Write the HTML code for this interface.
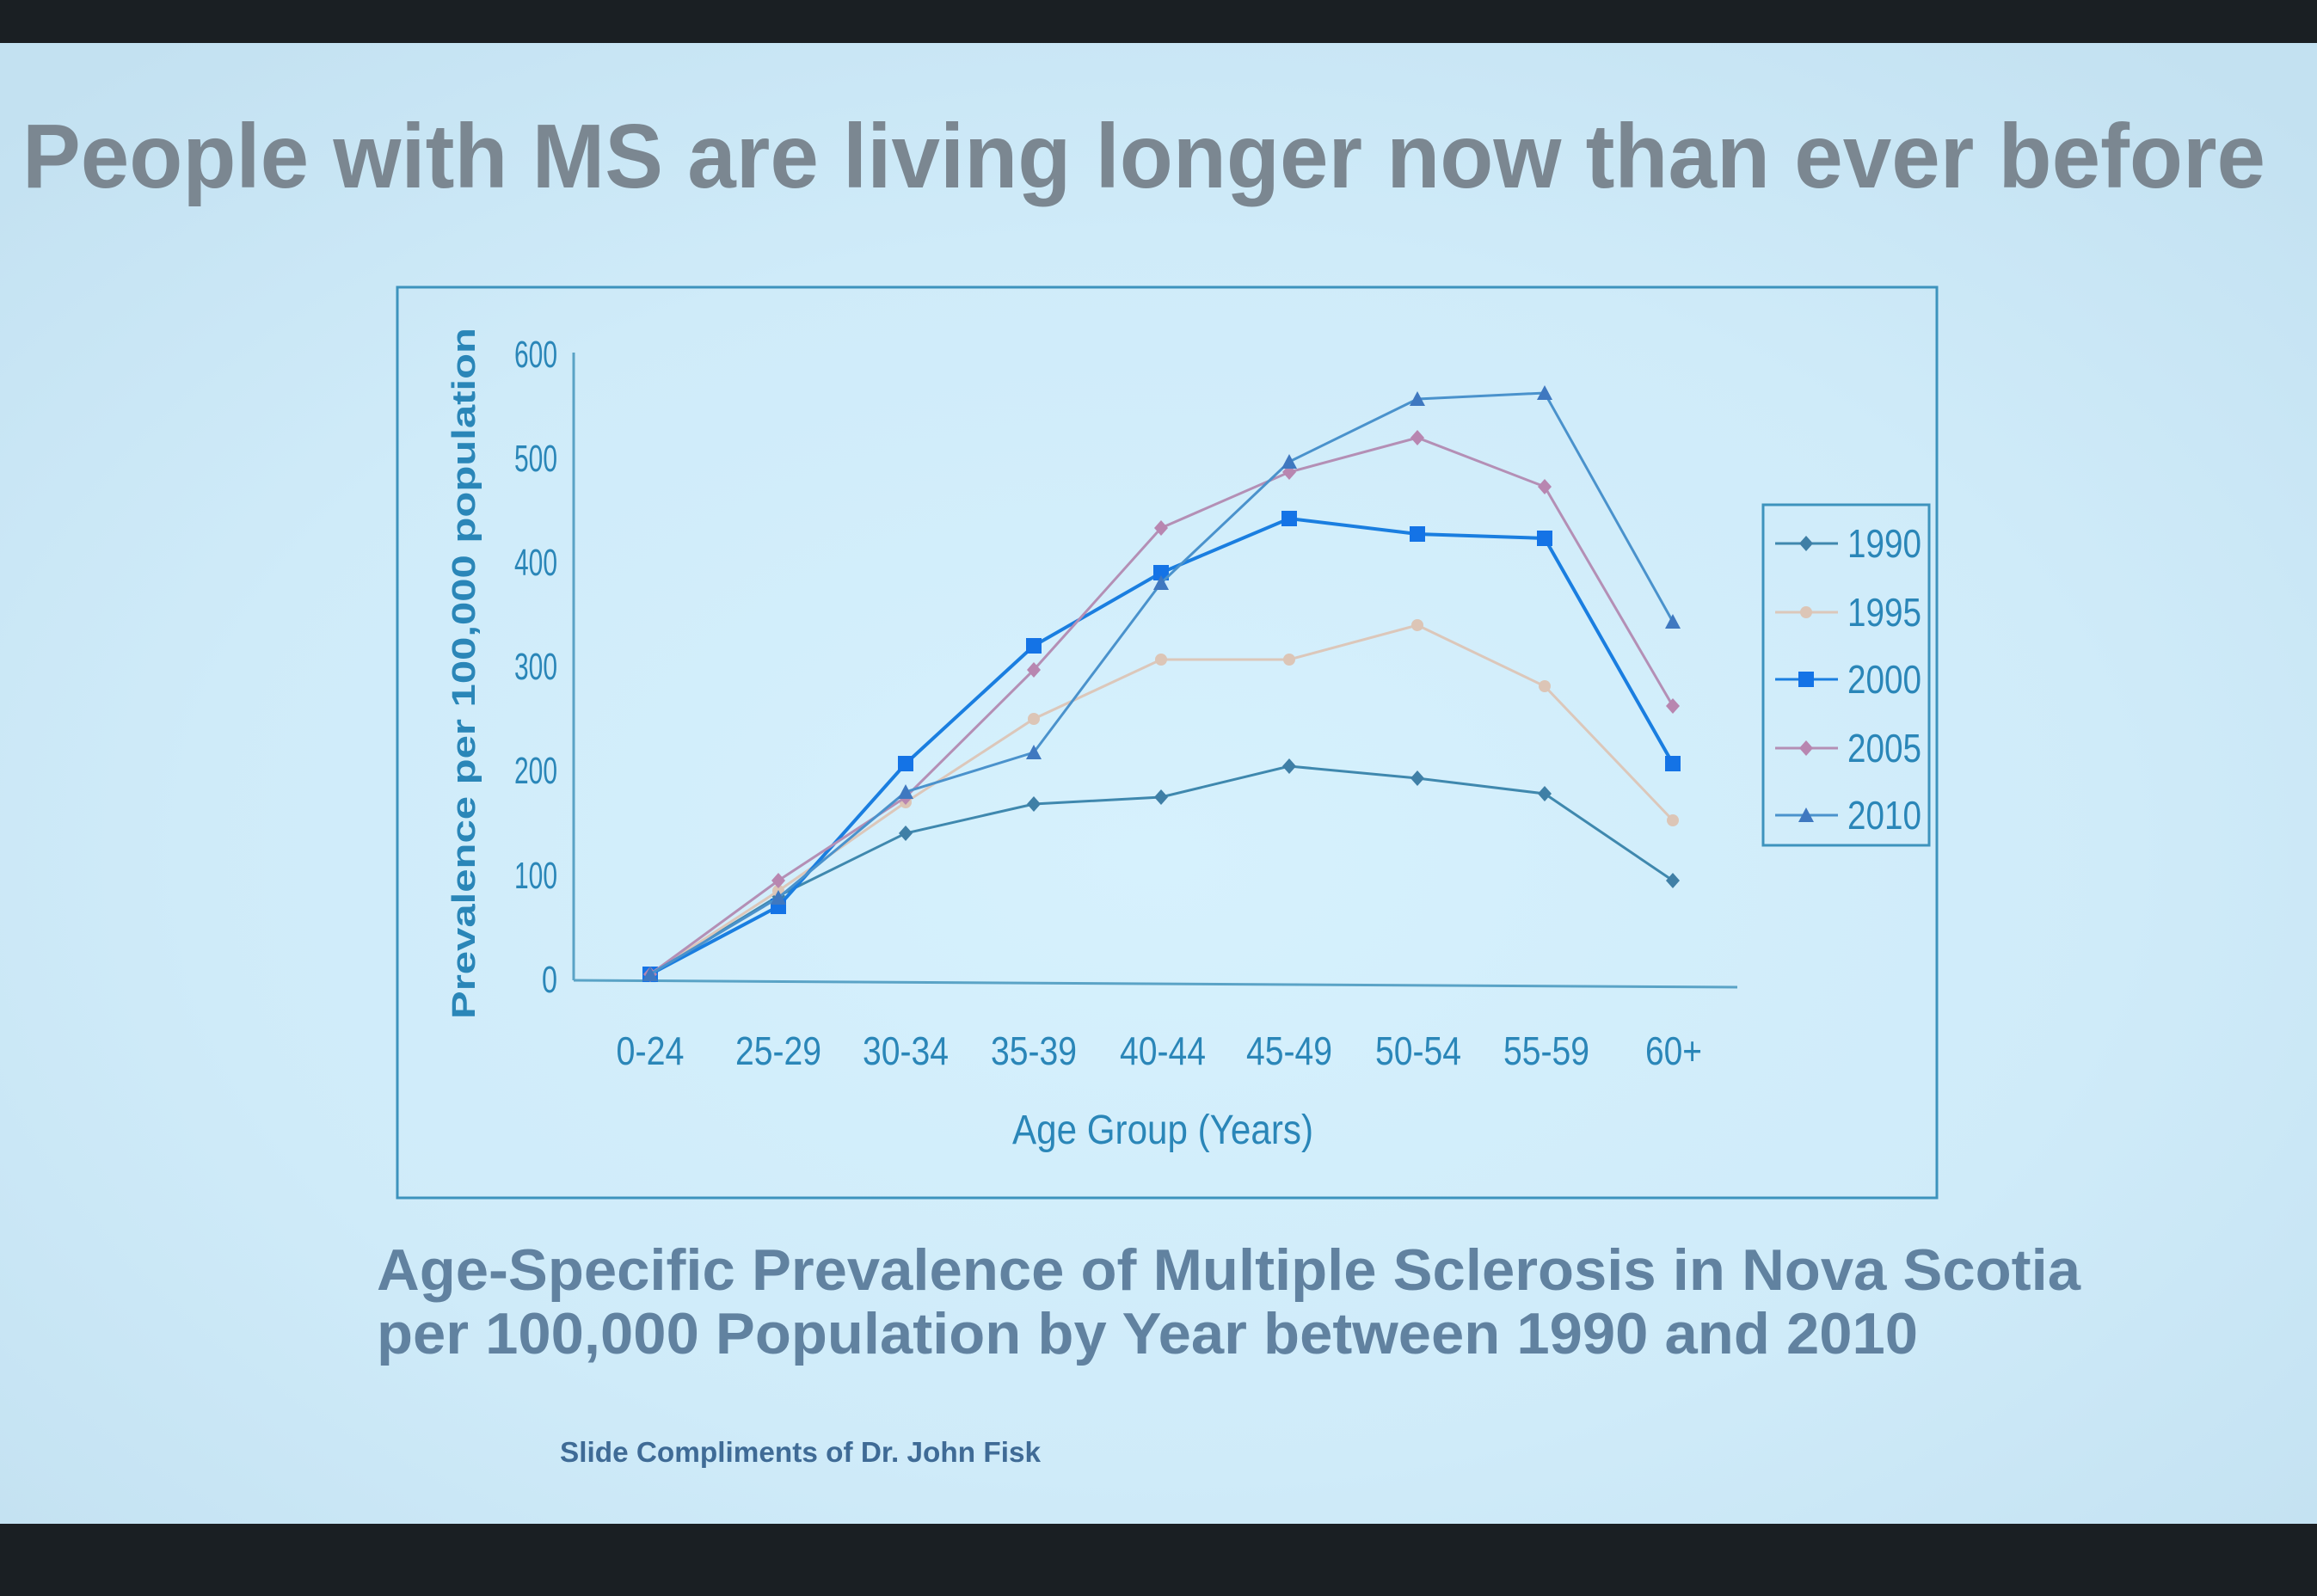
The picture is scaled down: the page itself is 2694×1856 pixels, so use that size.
<!DOCTYPE html>
<html><head><meta charset="utf-8"><style>
html,body{margin:0;padding:0;}
body{width:2694px;height:1856px;overflow:hidden;background:#1a1f23;position:relative;}
</style></head><body>
<svg width="2694" height="1856" viewBox="0 0 2694 1856" xmlns="http://www.w3.org/2000/svg" style="position:absolute;left:0;top:0">
<defs>
<radialGradient id="bg" cx="0.5" cy="0.55" r="0.7">
<stop offset="0" stop-color="#d6f1fd"/>
<stop offset="0.6" stop-color="#cfebf9"/>
<stop offset="1" stop-color="#c3e1f1"/>
</radialGradient>
<marker id="m90" viewBox="-10 -10 20 20" markerWidth="20" markerHeight="20" markerUnits="userSpaceOnUse"><path d="M0,-9 L8,0 L0,9 L-8,0Z" fill="#3f7fa6"/></marker>
<marker id="m95" viewBox="-10 -10 20 20" markerWidth="20" markerHeight="20" markerUnits="userSpaceOnUse"><circle r="7" fill="#dcc5b6"/></marker>
<marker id="m00" viewBox="-10 -10 20 20" markerWidth="20" markerHeight="20" markerUnits="userSpaceOnUse"><rect x="-9" y="-9" width="18" height="18" fill="#1473e6"/></marker>
<marker id="m05" viewBox="-10 -10 20 20" markerWidth="20" markerHeight="20" markerUnits="userSpaceOnUse"><path d="M0,-9 L8,0 L0,9 L-8,0Z" fill="#b886b0"/></marker>
<marker id="m10" viewBox="-10 -10 20 20" markerWidth="20" markerHeight="20" markerUnits="userSpaceOnUse"><path d="M0,-9 L9,8 L-9,8Z" fill="#3f78c0"/></marker>
</defs>
<rect x="0" y="50" width="2694" height="1722" fill="url(#bg)"/>
<text x="26" y="218" font-family="Liberation Sans, sans-serif" font-weight="bold" font-size="106" fill="#7b8791" textLength="2608" lengthAdjust="spacingAndGlyphs">People with MS are living longer now than ever before</text>
<rect x="462" y="334" width="1790" height="1059" fill="none" stroke="#3d93bd" stroke-width="3"/>
<g font-family="Liberation Sans, sans-serif" fill="#2a86b8">
<line x1="667" y1="410" x2="667" y2="1140" stroke="#5aa3c6" stroke-width="3"/>
<line x1="667" y1="1140" x2="2020" y2="1148" stroke="#5aa3c6" stroke-width="3"/>
<g font-size="44" text-anchor="end" lengthAdjust="spacingAndGlyphs">
<text x="648" y="1154" textLength="18" lengthAdjust="spacingAndGlyphs">0</text><text x="648" y="1033" textLength="50" lengthAdjust="spacingAndGlyphs">100</text><text x="648" y="911" textLength="50" lengthAdjust="spacingAndGlyphs">200</text><text x="648" y="790" textLength="50" lengthAdjust="spacingAndGlyphs">300</text><text x="648" y="669" textLength="50" lengthAdjust="spacingAndGlyphs">400</text><text x="648" y="548" textLength="50" lengthAdjust="spacingAndGlyphs">500</text><text x="648" y="427" textLength="50" lengthAdjust="spacingAndGlyphs">600</text>
</g>
<g font-size="46" text-anchor="middle">
<text x="756" y="1238" textLength="79" lengthAdjust="spacingAndGlyphs">0-24</text><text x="905" y="1238" textLength="100" lengthAdjust="spacingAndGlyphs">25-29</text><text x="1053" y="1238" textLength="100" lengthAdjust="spacingAndGlyphs">30-34</text><text x="1202" y="1238" textLength="100" lengthAdjust="spacingAndGlyphs">35-39</text><text x="1352" y="1238" textLength="100" lengthAdjust="spacingAndGlyphs">40-44</text><text x="1499" y="1238" textLength="100" lengthAdjust="spacingAndGlyphs">45-49</text><text x="1649" y="1238" textLength="100" lengthAdjust="spacingAndGlyphs">50-54</text><text x="1798" y="1238" textLength="100" lengthAdjust="spacingAndGlyphs">55-59</text><text x="1946" y="1238" textLength="66" lengthAdjust="spacingAndGlyphs">60+</text>
</g>
<text x="1352" y="1330" font-size="48" text-anchor="middle" textLength="350" lengthAdjust="spacingAndGlyphs">Age Group (Years)</text>
<text transform="translate(552,783) rotate(-90)" font-size="38" font-weight="bold" text-anchor="middle" textLength="804" lengthAdjust="spacingAndGlyphs">Prevalence per 100,000 population</text>
</g>
<g fill="none" stroke-width="3">
<polyline stroke="#3f88ae" marker-start="url(#m90)" marker-mid="url(#m90)" marker-end="url(#m90)" points="756,1133 905,1042 1053,969 1202,935 1350,927 1499,891 1648,905 1796,923 1945,1024"/>
<polyline stroke="#dcc7ba" marker-start="url(#m95)" marker-mid="url(#m95)" marker-end="url(#m95)" points="756,1133 905,1036 1053,933 1202,836 1350,767 1499,767 1648,727 1796,798 1945,954"/>
<polyline stroke="#1a7ee0" stroke-width="4" marker-start="url(#m00)" marker-mid="url(#m00)" marker-end="url(#m00)" points="756,1133 905,1054 1053,888 1202,751 1350,666 1499,603 1648,621 1796,626 1945,888"/>
<polyline stroke="#b48fb5" marker-start="url(#m05)" marker-mid="url(#m05)" marker-end="url(#m05)" points="756,1133 905,1024 1053,927 1202,779 1350,614 1499,549 1648,509 1796,566 1945,821"/>
<polyline stroke="#4a92cc" marker-start="url(#m10)" marker-mid="url(#m10)" marker-end="url(#m10)" points="756,1133 905,1044 1053,921 1202,875 1350,678 1499,537 1648,464 1796,457 1945,723"/>
</g>
<rect x="2050" y="587" width="193" height="396" fill="none" stroke="#3d93bd" stroke-width="3"/>
<g stroke-width="3" font-family="Liberation Sans, sans-serif" font-size="46" fill="#2a86b8">
<path d="M2064,632 L2100,632 L2137,632" stroke="#3f88ae" fill="none" marker-mid="url(#m90)"/><text x="2148" y="648" stroke="none" textLength="86" lengthAdjust="spacingAndGlyphs">1990</text>
<path d="M2064,712 L2100,712 L2137,712" stroke="#dcc7ba" fill="none" marker-mid="url(#m95)"/><text x="2148" y="728" stroke="none" textLength="86" lengthAdjust="spacingAndGlyphs">1995</text>
<path d="M2064,790 L2100,790 L2137,790" stroke="#1a7ee0" fill="none" marker-mid="url(#m00)"/><text x="2148" y="806" stroke="none" textLength="86" lengthAdjust="spacingAndGlyphs">2000</text>
<path d="M2064,870 L2100,870 L2137,870" stroke="#b48fb5" fill="none" marker-mid="url(#m05)"/><text x="2148" y="886" stroke="none" textLength="86" lengthAdjust="spacingAndGlyphs">2005</text>
<path d="M2064,948 L2100,948 L2137,948" stroke="#4a92cc" fill="none" marker-mid="url(#m10)"/><text x="2148" y="964" stroke="none" textLength="86" lengthAdjust="spacingAndGlyphs">2010</text>
</g>
<g font-family="Liberation Sans, sans-serif" font-weight="bold" font-size="68" fill="#6182a0">
<text x="438" y="1500" textLength="1981" lengthAdjust="spacingAndGlyphs">Age-Specific Prevalence of Multiple Sclerosis in Nova Scotia</text>
<text x="438" y="1574" textLength="1792" lengthAdjust="spacingAndGlyphs">per 100,000 Population by Year between 1990 and 2010</text>
</g>
<text x="651" y="1700" font-family="Liberation Sans, sans-serif" font-weight="bold" font-size="33" fill="#3f6b96" textLength="559" lengthAdjust="spacingAndGlyphs">Slide Compliments of Dr. John Fisk</text>
</svg>
</body></html>
